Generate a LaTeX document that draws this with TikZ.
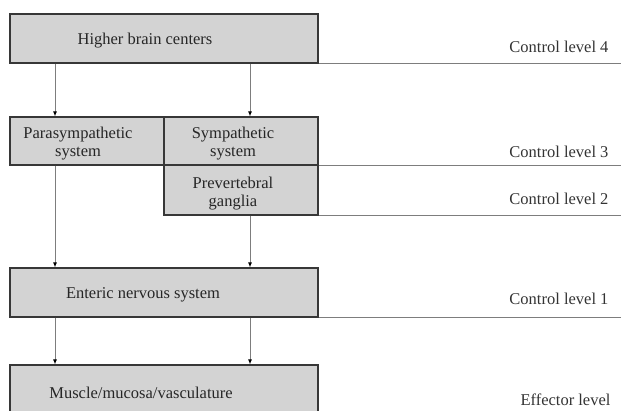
\documentclass[tikz,border=0pt]{standalone}
\usepackage{fontspec}
\setmainfont{Liberation Serif}
\usepackage{xcolor}
\usetikzlibrary{positioning,calc,arrows.meta}

\definecolor{boxgray}{RGB}{211,211,211}
\definecolor{edgegray}{RGB}{55,55,55}
\definecolor{linegray}{RGB}{125,125,125}

\tikzset{
  box/.style={draw=edgegray, line width=1.2pt, fill=boxgray, rectangle, inner sep=0pt},
  lbl/.style={font=\fontsize{16.5}{18}\selectfont, align=center, text=black!85},
  lvl/.style={font=\fontsize{16.5}{18}\selectfont, anchor=east, text=black!80},
  arr/.style={draw=linegray, line width=0.9pt, -{Latex[length=5pt,width=4pt,color=black]}},
  sep/.style={draw=linegray, line width=0.9pt}
}

\begin{document}
\begin{tikzpicture}[x=1pt, y=-1pt]
    \useasboundingbox (0,0) rectangle (621,410);
    \clip (0,0) rectangle (621,410);

    % boxes
    \node[box, minimum width=308pt, minimum height=49pt] (hbc) at (164,38.5) {};
    \node[box, minimum width=154pt, minimum height=48pt] (para) at (87,141) {};
    \node[box, minimum width=154pt, minimum height=48pt] (symp) at (241,141) {};
    \node[box, minimum width=154pt, minimum height=50pt] (prev) at (241,190) {};
    \node[box, minimum width=308pt, minimum height=49pt] (ens) at (164,292.5) {};
    \node[box, minimum width=308pt, minimum height=49pt] (mus) at (164,389.5) {};

    % box texts
    \node[lbl] (thbc) at (145,41) {Higher brain centers};
    \node[lbl] (tpara) at (78,144) {Parasympathetic\\system};
    \node[lbl] (tsymp) at (233,144) {Sympathetic\\system};
    \node[lbl] (tprev) at (233,193.5) {Prevertebral\\ganglia};
    \node[lbl] (tens) at (143,295) {Enteric nervous system};
    \node[lbl] (tmus) at (141,393) {Muscle/mucosa/vasculature};

    % arrow columns
    \coordinate (colL) at (55,0);
    \coordinate (colR) at (250,0);

    \draw[arr] (hbc.south -| colL) -- (para.north -| colL);
    \draw[arr] (hbc.south -| colR) -- (symp.north -| colR);
    \draw[arr] (para.south -| colL) -- (ens.north -| colL);
    \draw[arr] (prev.south -| colR) -- (ens.north -| colR);
    \draw[arr] (ens.south -| colL) -- (mus.north -| colL);
    \draw[arr] (ens.south -| colR) -- (mus.north -| colR);

    % level lines
    \coordinate (edge) at (621,0);
    \draw[sep] (hbc.south east) -- (hbc.south east -| edge);
    \draw[sep] (symp.south east) -- (symp.south east -| edge);
    \draw[sep] (prev.south east) -- (prev.south east -| edge);
    \draw[sep] (ens.south east) -- (ens.south east -| edge);

    % level names
    \node[lvl] (l4) at (612,47) {Control level 4};
    \node[lvl] (l3) at (612,152) {Control level 3};
    \node[lvl] (l2) at (612,199) {Control level 2};
    \node[lvl] (l1) at (612,299) {Control level 1};
    \node[lvl] (le) at (614,400) {Effector level};
\end{tikzpicture}
\end{document}
